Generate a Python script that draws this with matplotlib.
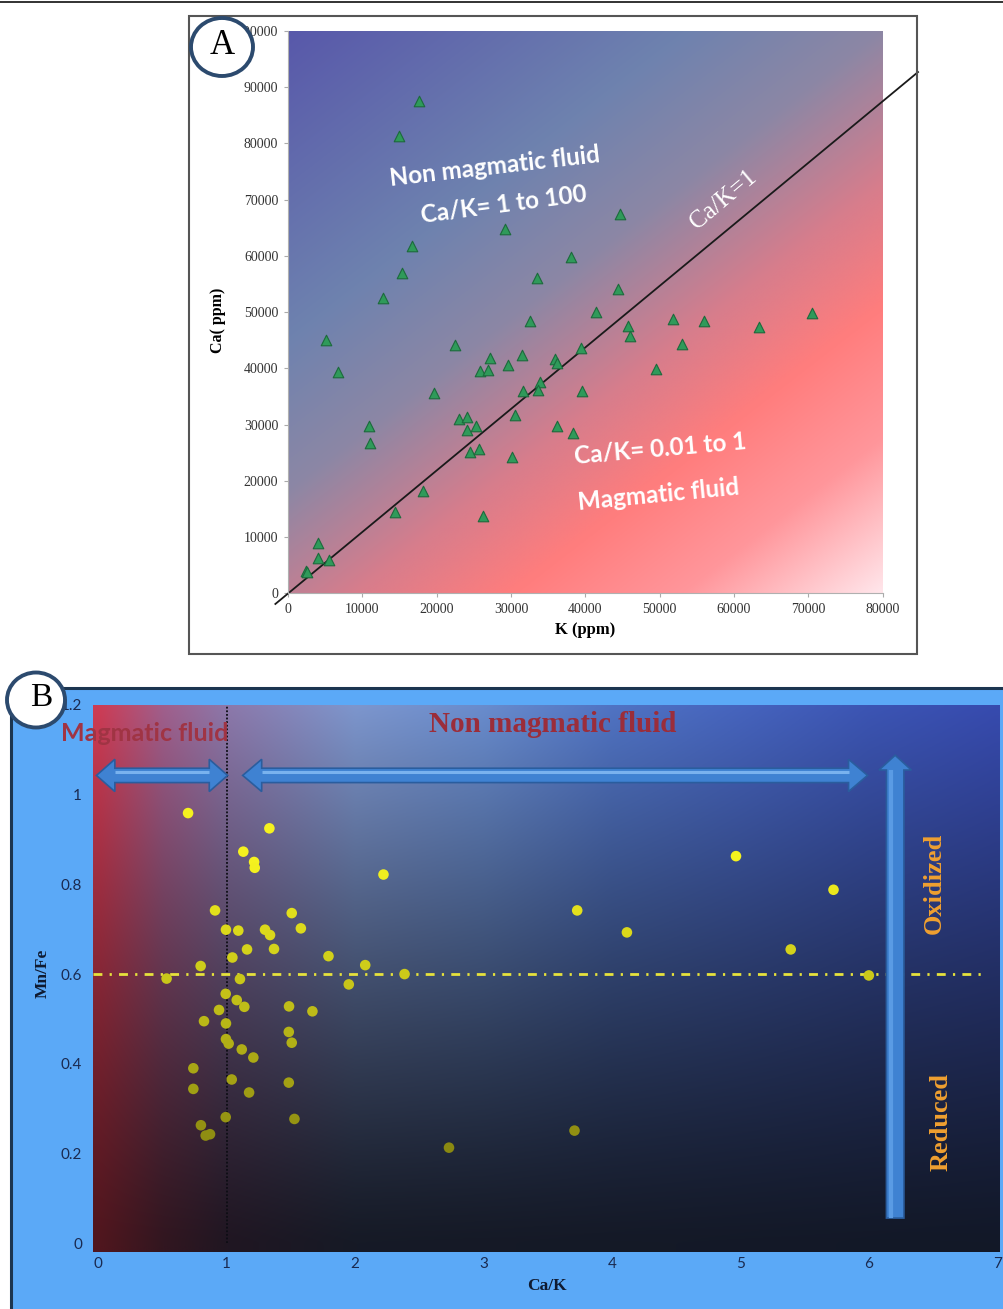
import numpy as np
import matplotlib
matplotlib.use('Agg')
import matplotlib.pyplot as plt
from matplotlib.patches import Rectangle, Ellipse, Polygon
from matplotlib.lines import Line2D

W, H = 1004, 1309

# ---- panel A : K vs Ca (ppm)
k_ppm = [17580, 14940, 29150, 16690, 15290, 12780, 38010, 33470, 32570,
         44670, 44350, 41380, 45750, 51730, 56010, 63340, 70540,
         46020, 52990, 39360, 49490, 39500, 38370,
         5090, 6750, 22450, 27170, 31540, 35900, 36130,
         25820, 26900, 29600, 33870, 31620, 33640,
         19700, 22980, 24060, 24060, 25330, 30500, 36130,
         24520, 25640, 30140,
         10840, 11070, 18220, 14440, 26220,
         4090, 4090, 5530, 2390, 2600]
ca_ppm = [87470, 81250, 64770, 61800, 57050, 52600, 59720, 56050, 48500,
          67440, 54150, 50100, 47620, 48810, 48500, 47440, 49820,
          45780, 44360, 43590, 39850, 36050, 28580,
          45070, 39320, 44130, 41920, 42400, 41690, 40920,
          39550, 39730, 40620, 37650, 36000, 36170,
          35700, 30960, 31430, 29060, 29770, 31670, 29770,
          25090, 25680, 24200,
          29770, 26690, 18260, 14520, 13750,
          8900, 6330, 5920, 4020, 3700]
a_xticks = list(range(0, 80001, 10000))
a_yticks = list(range(0, 100001, 10000))
# hand drawn Ca/K=1 line (runs past the plot area)
ref_k = [-1700, 84750]
ref_ca = [-1900, 92700]

# ---- panel B : Ca/K vs Mn/Fe
ca_k = [0.70, 1.333, 1.130, 1.214, 1.219, 2.221, 0.910, 1.507, 0.995, 1.091,
        1.299, 1.338, 1.578, 1.159, 1.369, 1.045, 1.793, 2.079, 0.798, 0.533,
        1.104, 2.385, 1.951, 0.993, 1.079, 1.138, 0.941, 1.486, 1.668, 0.824,
        0.995, 1.484, 0.995, 1.016, 1.507, 1.118, 1.208, 0.741, 1.040, 1.484,
        0.741, 1.175, 0.993, 1.528, 0.800, 0.837, 0.871, 2.731,
        4.965, 5.724, 3.729, 4.116, 5.391, 5.999, 3.708]
mn_fe = [0.959, 0.925, 0.873, 0.850, 0.837, 0.822, 0.742, 0.736, 0.699, 0.697,
         0.699, 0.687, 0.702, 0.655, 0.656, 0.637, 0.640, 0.620, 0.618, 0.590,
         0.589, 0.600, 0.577, 0.556, 0.542, 0.527, 0.520, 0.528, 0.517, 0.495,
         0.490, 0.471, 0.455, 0.445, 0.447, 0.432, 0.414, 0.390, 0.365, 0.358,
         0.344, 0.336, 0.281, 0.277, 0.263, 0.240, 0.243, 0.213,
         0.863, 0.788, 0.742, 0.693, 0.655, 0.597, 0.251]
b_xticks = list(range(0, 8))
b_yticks = [0, 0.2, 0.4, 0.6, 0.8, 1.0, 1.2]
b_ylabels = ['0', '0.2', '0.4', '0.6', '0.8', '1', '1.2']
mnfe_line = 0.6
cak_line = 1.0

SERIF = 'Liberation Serif'
SANS = 'Lato'

fig = plt.figure(figsize=(W / 100, H / 100), dpi=100)


def fx(x):
    return x / W


def fy(y):
    return 1 - y / H


def px_axes(x0, y0, x1, y1):
    return fig.add_axes([fx(x0), fy(y1), (x1 - x0) / W, (y1 - y0) / H])


def ftext(x, y, s, **kw):
    kw.setdefault('ha', 'center')
    kw.setdefault('va', 'center')
    return fig.text(fx(x), fy(y), s, **kw)


# thin rule at the very top
fig.add_artist(Line2D([0, 1], [fy(2), fy(2)], transform=fig.transFigure,
                      color='#222222', lw=1.3))

# ================= panel A =================
fig.add_artist(Rectangle((fx(189), fy(654)), (917 - 189) / W, (654 - 16) / H,
                         transform=fig.transFigure, fill=False,
                         ec='#555555', lw=1.5, zorder=1))

ax_a = px_axes(288, 31, 882.7, 593.3)
ax_a.set_xlim(0, 80000)
ax_a.set_ylim(0, 100000)

# diagonal blue -> red -> pink background
u = np.linspace(0, 1, 300)
v = np.linspace(1, 0, 300)
U, V = np.meshgrid(u, v)
t = 0.45 * U + 0.55 * (1 - V)
tk = [0.0, 0.3, 0.45, 0.6, 0.72, 0.85, 1.0]
rr = [88, 110, 140, 215, 255, 255, 255]
gg = [88, 130, 135, 125, 125, 150, 230]
bb = [170, 175, 165, 140, 125, 155, 235]
img_a = np.dstack([np.interp(t, tk, rr), np.interp(t, tk, gg),
                   np.interp(t, tk, bb)]) / 255
ax_a.imshow(img_a, extent=[0, 80000, 0, 100000], aspect='auto', zorder=0,
            interpolation='bicubic')

ax_a.plot(ref_k, ref_ca, color='#1a1a1a', lw=1.3, clip_on=False, zorder=2)
ax_a.scatter(k_ppm, ca_ppm, marker='^', s=58, c='#2f9a5a',
             edgecolors='#1c6a3c', linewidths=0.8, zorder=3)

ax_a.set_xticks(a_xticks)
ax_a.set_yticks(a_yticks)
ax_a.set_xticklabels([str(x) for x in a_xticks], fontfamily=SERIF, fontsize=10,
                     color='#333333')
ax_a.set_yticklabels([str(y) for y in a_yticks], fontfamily=SERIF, fontsize=10,
                     color='#333333')
ax_a.tick_params(direction='out', length=3, color='#aaaaaa', pad=4)
for side in ['top', 'right']:
    ax_a.spines[side].set_visible(False)
for side in ['left', 'bottom']:
    ax_a.spines[side].set_color('#b0b0b0')
    ax_a.spines[side].set_linewidth(0.8)

ftext(585, 630, 'K (ppm)', fontfamily=SERIF, fontweight='bold', fontsize=12)
ftext(218, 320, 'Ca( ppm)', fontfamily=SERIF, fontweight='bold', fontsize=11.5,
      rotation=90)

ftext(495, 167, 'Non magmatic fluid', fontfamily=SANS, fontweight='bold',
      fontsize=17.5, color='white', rotation=6.5)
ftext(504, 204, 'Ca/K= 1 to 100', fontfamily=SANS, fontweight='bold',
      fontsize=17.5, color='white', rotation=7.5)
ftext(724, 200, 'Ca/K=1', fontfamily=SERIF, fontsize=18, color='white',
      rotation=40)
ftext(660, 449, 'Ca/K= 0.01 to 1', fontfamily=SANS, fontweight='bold',
      fontsize=17.5, color='white', rotation=5)
ftext(659, 495, 'Magmatic fluid', fontfamily=SANS, fontweight='bold',
      fontsize=17.5, color='white', rotation=5.5)

fig.add_artist(Ellipse((fx(222), fy(47)), 62 / W, 58 / H,
                       transform=fig.transFigure, fc='white', ec='#2c4a6e',
                       lw=2.8, zorder=10))
ftext(222, 46, 'A', fontfamily=SERIF, fontsize=25, zorder=11)

# ================= panel B =================
fig.add_artist(Rectangle((fx(11), 0), (W - 11) / W, (H - 688) / H,
                         transform=fig.transFigure, fc='#5ba9f7', ec='none',
                         zorder=-1))
fig.add_artist(Line2D([fx(11), 1], [fy(688), fy(688)], transform=fig.transFigure,
                      color='#1c3550', lw=2.2, zorder=1))
fig.add_artist(Line2D([fx(11), fx(11)], [0, fy(688)], transform=fig.transFigure,
                      color='#1c3550', lw=2.2, zorder=1))

xl_b = (-0.04, 7.02)
yl_b = (-0.019, 1.2)
ax_b = px_axes(93, 705, 1000, 1251.7)
ax_b.set_xlim(*xl_b)
ax_b.set_ylim(*yl_b)

gx = np.linspace(xl_b[0], xl_b[1], 400)
gy = np.linspace(yl_b[1], yl_b[0], 300)
GX, GY = np.meshgrid(gx, gy)
top_x = [0, 0.5, 1, 2, 3, 4, 5, 6, 7]
top_r = [205, 160, 140, 125, 105, 80, 70, 60, 55]
top_g = [60, 95, 120, 150, 140, 115, 100, 85, 75]
top_b = [85, 140, 170, 205, 205, 195, 190, 180, 175]
bot_x = [0, 0.5, 1, 2, 7]
bot_r = [80, 50, 32, 22, 18]
bot_g = [22, 22, 22, 26, 24]
bot_b = [30, 32, 34, 38, 40]
f = np.clip(GY / 1.2, 0, 1) ** 1.2
chans = []
for tc, bc in [(top_r, bot_r), (top_g, bot_g), (top_b, bot_b)]:
    top = np.interp(GX, top_x, tc)
    bot = np.interp(GX, bot_x, bc)
    chans.append(bot + (top - bot) * f)
img_b = np.clip(np.dstack(chans) / 255, 0, 1)
ax_b.imshow(img_b, extent=[xl_b[0], xl_b[1], yl_b[0], yl_b[1]], aspect='auto',
            zorder=0, interpolation='bicubic')

ax_b.plot([cak_line, cak_line], [0, 1.2], color='#0d0d14', lw=1.3,
          ls=(0, (1, 1)), zorder=2)
ax_b.plot([-0.04, 6.9], [mnfe_line, mnfe_line], color='#e6e23c', lw=2,
          ls=(0, (3.2, 2.6, 0.8, 2.6)), zorder=2, clip_on=False)

bright = 0.42 + 0.58 * np.clip(np.array(mn_fe) / 0.85, 0, 1)
pt_colors = [(0.96 * b, 0.95 * b, 0.12 * b) for b in bright]
ax_b.scatter(ca_k, mn_fe, s=58, c=pt_colors, edgecolors='none', zorder=3)

ARROW_FC = '#3f82d2'
ARROW_EC = '#2a5d9e'
ARROW_HI = '#79b2ee'


def double_arrow(ax, x0, x1, y, bh, hh, hl):
    pts = [(x0, y), (x0 + hl, y + hh), (x0 + hl, y + bh), (x1 - hl, y + bh),
           (x1 - hl, y + hh), (x1, y), (x1 - hl, y - hh), (x1 - hl, y - bh),
           (x0 + hl, y - bh), (x0 + hl, y - hh)]
    ax.add_patch(Polygon(pts, closed=True, fc=ARROW_FC, ec=ARROW_EC, lw=1.2,
                         zorder=4, clip_on=False))
    ax.plot([x0 + hl, x1 - hl], [y + bh * 0.45, y + bh * 0.45], color=ARROW_HI,
            lw=2.2, zorder=4.5, solid_capstyle='butt')


def up_arrow(ax, x, y0, y1, bw, hw, hl):
    pts = [(x - bw, y0), (x - bw, y1 - hl), (x - hw, y1 - hl), (x, y1),
           (x + hw, y1 - hl), (x + bw, y1 - hl), (x + bw, y0)]
    ax.add_patch(Polygon(pts, closed=True, fc=ARROW_FC, ec=ARROW_EC, lw=1.2,
                         zorder=4))
    ax.plot([x - bw * 0.45, x - bw * 0.45], [y0, y1 - hl], color='#5a9be4',
            lw=3, zorder=4.5, solid_capstyle='butt')


double_arrow(ax_b, -0.013, 1.008, 1.043, 0.016, 0.036, 0.143)
double_arrow(ax_b, 1.125, 5.989, 1.043, 0.016, 0.036, 0.148)
up_arrow(ax_b, 6.204, 0.056, 1.088, 0.068, 0.126, 0.033)

ax_b.set_xticks(b_xticks)
ax_b.set_yticks(b_yticks)
ax_b.set_xticklabels([str(x) for x in b_xticks], fontfamily=SANS, fontsize=11,
                     color='#1a2a50')
ax_b.set_yticklabels(b_ylabels, fontfamily=SANS, fontsize=11, color='#1a2a50')
ax_b.tick_params(axis='x', length=0, pad=4)
ax_b.tick_params(axis='y', length=0, pad=8)
for s in ax_b.spines.values():
    s.set_visible(False)

ftext(43, 973, 'Mn/Fe', fontfamily=SERIF, fontweight='bold', fontsize=12.5,
      rotation=90, color='#0f1a30')
ftext(547, 1286, 'Ca/K', fontfamily=SERIF, fontweight='bold', fontsize=12.5,
      color='#0f1a30')

ftext(61, 733, 'Magmatic fluid', fontfamily=SANS, fontweight='bold',
      fontsize=18, color='#a03444', ha='left')
ftext(553, 725, 'Non magmatic fluid', fontfamily=SERIF, fontweight='bold',
      fontsize=21, color='#9b2d3a')
ftext(934, 883, 'Oxidized', fontfamily=SERIF, fontweight='bold', fontsize=19,
      color='#f0a030', rotation=90)
ftext(941, 1122, 'Reduced', fontfamily=SERIF, fontweight='bold', fontsize=19,
      color='#f0a030', rotation=90)

fig.add_artist(Ellipse((fx(36), fy(700)), 58 / W, 55 / H,
                       transform=fig.transFigure, fc='white', ec='#2c4a6e',
                       lw=2.8, zorder=10))
ftext(41, 698, 'B', fontfamily=SERIF, fontsize=24, zorder=11)

fig.savefig('out.png', dpi=100)
